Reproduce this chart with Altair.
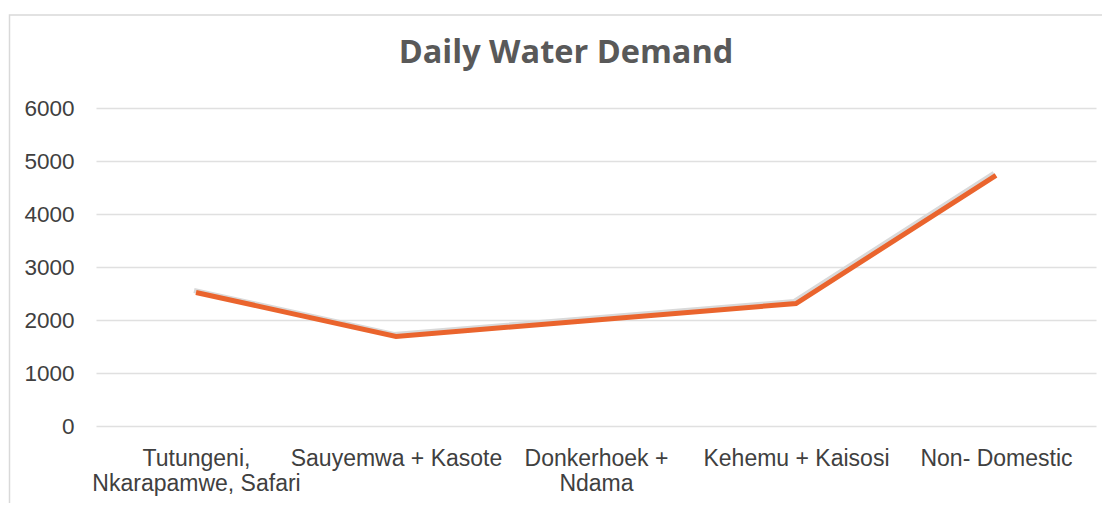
import altair as alt
import pandas as pd

categories = [
    "Tutungeni,\nNkarapamwe, Safari",
    "Sauyemwa + Kasote",
    "Donkerhoek +\nNdama",
    "Kehemu + Kaisosi",
    "Non- Domestic",
]
demand = [2520, 1690, 2000, 2310, 4730]
y_ticks = [0, 1000, 2000, 3000, 4000, 5000, 6000]

df = pd.DataFrame({"category": categories, "demand": demand})

x_enc = alt.X(
    "category:N",
    sort=categories,
    scale=alt.Scale(type="point", padding=0.5),
    axis=alt.Axis(
        title=None,
        labelAngle=0,
        labelExpr=r"split(datum.label, '\n')",
        labelFont="Liberation Sans",
        labelFontSize=23,
        labelColor="#404040",
        labelPadding=21,
        labelLineHeight=25,
        labelBaseline="top",
        labelLimit=0,
        domain=False,
        ticks=False,
        grid=False,
    ),
)
y_enc = alt.Y(
    "demand:Q",
    scale=alt.Scale(domain=[0, 6000], nice=False),
    axis=alt.Axis(
        title=None,
        values=y_ticks,
        format="d",
        labelFont="Liberation Sans",
        labelFontSize=22.5,
        labelColor="#404040",
        labelPadding=22,
        domain=False,
        ticks=False,
        grid=True,
        gridColor="#e0e0e0",
        gridWidth=1.3,
    ),
)

shadow = alt.Chart(df).mark_line(
    color="#d9d9d9", strokeWidth=5, strokeJoin="round"
).encode(x=x_enc, y=y_enc, xOffset=alt.value(-2), yOffset=alt.value(-2))

line = alt.Chart(df).mark_line(
    color="#EA642D", strokeWidth=5, strokeJoin="miter"
).encode(x=x_enc, y=y_enc)

border = alt.Chart(alt.Data(values=[{"b": 1}])).mark_rect(
    filled=False, stroke="#d9d9d9", strokeWidth=1.5, clip=False
).encode(
    x=alt.value(-86.5), x2=alt.value(1030), y=alt.value(-93), y2=alt.value(420)
)

chart = alt.layer(border, shadow, line).properties(
    width=1000,
    height=318,
    autosize=alt.AutoSizeParams(type="none"),
    padding={"left": 88, "top": 100, "right": 6, "bottom": 77},
    title=alt.TitleParams(
        "Daily Water Demand",
        font="Open Sans",
        fontSize=32.5,
        fontWeight="bold",
        color="#595959",
        anchor="middle",
        baseline="alphabetic",
        dx=-30,
        offset=-81,
    ),
).configure_view(stroke=None)

chart.save("out.html", embed_options={"renderer": "svg", "actions": False})
